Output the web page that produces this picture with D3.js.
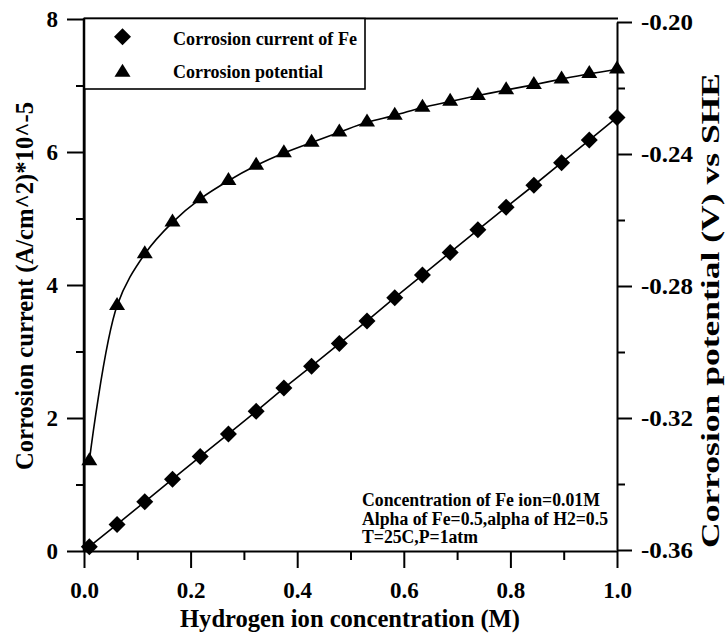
<!DOCTYPE html>
<html>
<head>
<meta charset="utf-8">
<script src="https://cdn.jsdelivr.net/npm/d3@7"></script>
<style>
  html, body { margin: 0; padding: 0; background: #fff; }
  svg { display: block; }
  text { font-family: "Liberation Serif", "Times New Roman", serif; font-weight: bold; fill: #000; }
</style>
</head>
<body>
<svg id="chart" width="726" height="635"></svg>
<script>
// ---- data ----
const hConc = [0.01, 0.062, 0.114, 0.166, 0.218, 0.271, 0.323, 0.375, 0.427, 0.479,
               0.531, 0.583, 0.635, 0.687, 0.739, 0.792, 0.844, 0.896, 0.948, 1.0];
const corrCurrent = [0.065, 0.40, 0.74, 1.08, 1.42, 1.76, 2.10, 2.45, 2.78, 3.12,
                     3.46, 3.81, 4.15, 4.49, 4.83, 5.17, 5.50, 5.84, 6.18, 6.52];
const corrPotential = [-0.3330, -0.2860, -0.2703, -0.2607, -0.2536, -0.2481, -0.2435, -0.2397, -0.2365, -0.2334,
                       -0.2304, -0.2283, -0.2259, -0.2241, -0.2223, -0.2206, -0.2190, -0.2173, -0.2157, -0.2143];
const xTicks = [0, 0.2, 0.4, 0.6, 0.8, 1.0];
const xMinorTicks = [0.1, 0.3, 0.5, 0.7, 0.9];
const yLeftTicks = [0, 2, 4, 6, 8];
const yLeftMinorTicks = [1, 3, 5, 7];
const yRightTicks = [-0.36, -0.32, -0.28, -0.24, -0.20];
const yRightMinorTicks = [-0.34, -0.30, -0.26, -0.22];
const legendLabels = ["Corrosion current of Fe", "Corrosion potential"];
const noteLines = ["Concentration of Fe ion=0.01M", "Alpha of Fe=0.5,alpha of H2=0.5", "T=25C,P=1atm"];
const xTitle = "Hydrogen ion concentration (M)";
const yLeftTitle = "Corrosion current (A/cm^2)*10^-5";
const yRightTitle = "Corrosion potential (V) vs SHE";

// ---- layout ----
const FONT = '"Liberation Serif", "Times New Roman", serif';
const svg = d3.select("#chart");
const X0 = 84, X1 = 617;
const x = d3.scaleLinear().domain([0, 1]).range([X0, X1]);
const yL = d3.scaleLinear().domain([0, 8]).range([551, 19]);
const yR = d3.scaleLinear().domain([-0.36, -0.20]).range([550, 22]);

const axisStroke = 2;
function styleAxis(g) {
  g.attr("font-family", FONT).attr("font-weight", "bold").attr("font-size", 23);
  g.selectAll("path.domain").attr("stroke", "#000").attr("stroke-width", axisStroke);
  g.selectAll(".tick line").attr("stroke", "#000").attr("stroke-width", axisStroke);
  g.selectAll(".tick text").attr("font-family", FONT).attr("font-weight", "bold")
    .attr("font-size", 23).attr("fill", "#000");
}
const fmt = k => (d => d.toFixed(k));

// top frame line
svg.append("line").attr("x1", X0).attr("x2", X1 + 1).attr("y1", 18.5).attr("y2", 18.5)
  .attr("stroke", "#000").attr("stroke-width", axisStroke);

// bottom axis
const gx = svg.append("g").attr("transform", "translate(0,551)")
  .call(d3.axisBottom(x).tickValues(xTicks).tickFormat(fmt(1)).tickSize(17).tickSizeOuter(0).tickPadding(14));
styleAxis(gx);
const gxm = svg.append("g").attr("transform", "translate(0,551)")
  .call(d3.axisBottom(x).tickValues(xMinorTicks).tickFormat("").tickSize(9).tickSizeOuter(0));
gxm.select("path.domain").remove();
styleAxis(gxm);

// left axis
const gl = svg.append("g").attr("transform", `translate(${X0},0)`)
  .call(d3.axisLeft(yL).tickValues(yLeftTicks).tickFormat(fmt(0)).tickSize(17).tickSizeOuter(0).tickPadding(9));
styleAxis(gl);
const glm = svg.append("g").attr("transform", `translate(${X0},0)`)
  .call(d3.axisLeft(yL).tickValues(yLeftMinorTicks).tickFormat("").tickSize(8).tickSizeOuter(0));
glm.select("path.domain").remove();
styleAxis(glm);

// right axis
const gr = svg.append("g").attr("transform", `translate(${X1},0)`)
  .call(d3.axisRight(yR).tickValues(yRightTicks).tickFormat(fmt(2)).tickSize(15).tickSizeOuter(0).tickPadding(9));
styleAxis(gr);
gr.selectAll(".tick text").attr("textLength", 52).attr("lengthAdjust", "spacingAndGlyphs");
const grm = svg.append("g").attr("transform", `translate(${X1},0)`)
  .call(d3.axisRight(yR).tickValues(yRightMinorTicks).tickFormat("").tickSize(8).tickSizeOuter(0));
grm.select("path.domain").remove();
styleAxis(grm);

// ---- series ----
const diamondPath = "M0,-8.5L8.5,0L0,8.5L-8.5,0Z";
const trianglePath = "M0,-8.7L8,4.3L-8,4.3Z";

const currentData = hConc.map((h, i) => ({ x: h, y: corrCurrent[i] }));
const potentialData = hConc.map((h, i) => ({ x: h, y: corrPotential[i] }));

svg.append("path").datum(currentData)
  .attr("fill", "none").attr("stroke", "#000").attr("stroke-width", 1.6)
  .attr("d", d3.line().x(d => x(d.x)).y(d => yL(d.y)));
svg.append("path").datum(potentialData)
  .attr("fill", "none").attr("stroke", "#000").attr("stroke-width", 1.6)
  .attr("d", d3.line().curve(d3.curveCatmullRom.alpha(0.5)).x(d => x(d.x)).y(d => yR(d.y)));

svg.append("g").selectAll("path").data(currentData).join("path")
  .attr("d", diamondPath).attr("fill", "#000")
  .attr("transform", d => `translate(${x(d.x)},${yL(d.y)})`);
svg.append("g").selectAll("path").data(potentialData).join("path")
  .attr("d", trianglePath).attr("fill", "#000")
  .attr("transform", d => `translate(${x(d.x)},${yR(d.y)})`);

// ---- legend ----
const leg = svg.append("g");
leg.append("rect").attr("x", X0).attr("y", 18.5).attr("width", 365 - X0).attr("height", 89 - 18.5)
  .attr("fill", "#fff").attr("stroke", "#000").attr("stroke-width", 1.6);
leg.append("path").attr("d", diamondPath).attr("transform", "translate(122.5,36.7)").attr("fill", "#000");
leg.append("path").attr("d", trianglePath).attr("transform", "translate(122.5,72.5)").attr("fill", "#000");
const legLens = [184, 150];
leg.selectAll("text").data(legendLabels).join("text")
  .attr("x", 173).attr("y", (d, i) => [45, 78][i])
  .style("font-size", "19px")
  .attr("textLength", (d, i) => legLens[i]).attr("lengthAdjust", "spacingAndGlyphs")
  .text(d => d);
// re-draw left axis line over legend border
svg.append("line").attr("x1", X0).attr("x2", X0).attr("y1", 18.5).attr("y2", 551)
  .attr("stroke", "#000").attr("stroke-width", 2.5);

// ---- annotation ----
const noteLens = [238, 246, 116];
svg.append("g").selectAll("text").data(noteLines).join("text")
  .attr("x", 362).attr("y", (d, i) => 506 + i * 18.7)
  .style("font-size", "18px")
  .attr("textLength", (d, i) => noteLens[i]).attr("lengthAdjust", "spacingAndGlyphs")
  .text(d => d);

// ---- titles ----
svg.append("text").attr("x", 350).attr("y", 627).attr("text-anchor", "middle")
  .style("font-size", "25px").attr("textLength", 340).attr("lengthAdjust", "spacingAndGlyphs")
  .text(xTitle);
svg.append("text").attr("transform", "translate(33,286) rotate(-90)").attr("text-anchor", "middle")
  .style("font-size", "26px").attr("textLength", 368).attr("lengthAdjust", "spacingAndGlyphs")
  .text(yLeftTitle);
svg.append("text").attr("transform", "translate(719,310.5) rotate(-90)").attr("text-anchor", "middle")
  .style("font-size", "25px").attr("textLength", 475).attr("lengthAdjust", "spacingAndGlyphs")
  .text(yRightTitle);
</script>
</body>
</html>
